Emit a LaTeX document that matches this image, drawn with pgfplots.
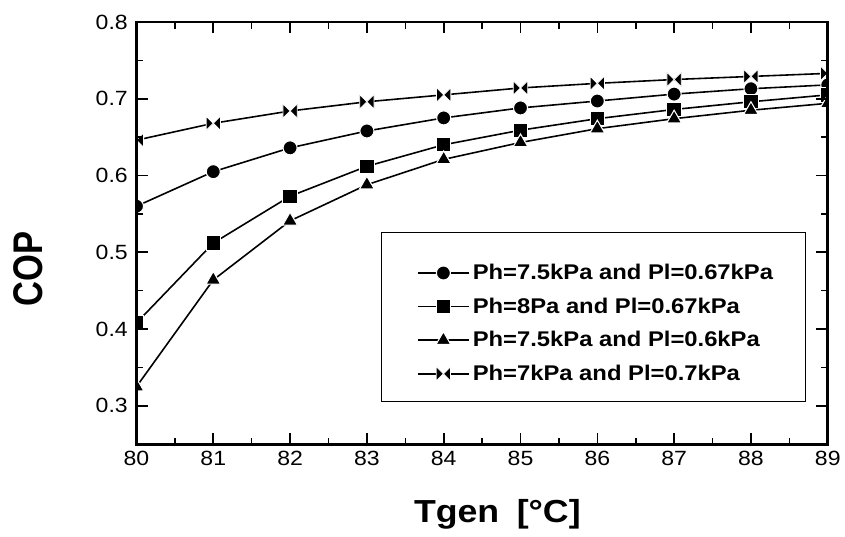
\documentclass[border=0pt]{standalone}
\usepackage{fontspec}
\setmainfont{Liberation Sans}[FakeStretch=1.12]
\newfontfamily\plainsans{Liberation Sans}
\usepackage{pgfplots}
\pgfplotsset{compat=1.18}
\usepackage{graphicx}

\pgfdeclareplotmark{bowtie}{%
 \pgfpathmoveto{\pgfqpoint{-\pgfplotmarksize}{\pgfplotmarksize}}%
 \pgfpathlineto{\pgfqpoint{\pgfplotmarksize}{-\pgfplotmarksize}}%
 \pgfpathlineto{\pgfqpoint{\pgfplotmarksize}{\pgfplotmarksize}}%
 \pgfpathlineto{\pgfqpoint{-\pgfplotmarksize}{-\pgfplotmarksize}}%
 \pgfpathclose
 \pgfusepathqfillstroke}

\begin{document}
\begin{tikzpicture}
\begin{axis}[
  width=520.5pt, height=318pt, scale only axis,
  at={(0,0)}, anchor=south west,
  xmin=80, xmax=89, ymin=0.25, ymax=0.8,
  xtick={80,81,82,83,84,85,86,87,88,89},
  ytick={0.3,0.4,0.5,0.6,0.7,0.8},
  minor x tick num=1, minor y tick num=1,
  tick align=inside, major tick length=8.5pt, minor tick length=5pt,
  every tick/.style={line width=1.2pt, black},
  axis line style={line width=2pt},
  yticklabel style={/pgf/number format/fixed, /pgf/number format/fixed zerofill, /pgf/number format/precision=1, xshift=-3pt},
  /pgf/number format/assume math mode=true,
  tick label style={font=\fontsize{15.5}{18}\selectfont},
  xticklabel style={yshift=-2pt},
  clip marker paths=true,
  axis on top,
  xlabel={\bfseries Tgen\hspace{0.55em}[°C]},
  xlabel style={at={(axis description cs:0.522,-0.186)}, anchor=base, font=\fontsize{24}{28}\selectfont},
  ylabel={\scalebox{1}[1.2]{\plainsans\bfseries COP}},
  ylabel style={at={(axis description cs:-0.157,0.415)}, anchor=center, rotate=0, font=\fontsize{26}{30}\selectfont},
  legend style={draw=none, fill=none, at={(axis description cs:0.405,0.433)}, anchor=north west,
    font=\bfseries\fontsize{16}{19}\selectfont, row sep=8.2pt, inner sep=0pt, cells={anchor=west}},
  legend image code/.code={\draw[mark repeat=2,mark phase=2] plot coordinates {(0pt,0pt)(19.5pt,0pt)(39pt,0pt)};},
]
\addplot[black, line width=1.2pt, mark=*, mark size=5.3pt, mark options={solid, fill=black, draw=white, line width=0.8pt}] coordinates {
 (80,0.560) (81,0.605) (82,0.636) (83,0.658) (84,0.675) (85,0.688) (86,0.697) (87,0.706) (88,0.713) (89,0.718)};
\addlegendentry{Ph=7.5kPa and Pl=0.67kPa}
\addplot[black, line width=1.2pt, mark=square*, mark size=5.4pt, mark options={solid, fill=black, draw=white, line width=0.8pt}] coordinates {
 (80,0.408) (81,0.512) (82,0.573) (83,0.612) (84,0.640) (85,0.659) (86,0.674) (87,0.686) (88,0.696) (89,0.705)};
\addlegendentry{Ph=8Pa and Pl=0.67kPa}
\addplot[black, line width=1.2pt, mark=triangle*, mark size=6.4pt, mark options={solid, fill=black, draw=white, line width=0.8pt}] coordinates {
 (80,0.325) (81,0.464) (82,0.541) (83,0.588) (84,0.621) (85,0.643) (86,0.661) (87,0.674) (88,0.685) (89,0.694)};
\addlegendentry{Ph=7.5kPa and Pl=0.6kPa}
\addplot[black, line width=1.2pt, mark=bowtie, mark size=5.4pt, mark options={solid, fill=black, draw=white, line width=0.6pt}] coordinates {
 (80,0.646) (81,0.668) (82,0.684) (83,0.696) (84,0.705) (85,0.714) (86,0.720) (87,0.725) (88,0.729) (89,0.733)};
\addlegendentry{Ph=7kPa and Pl=0.7kPa}
\draw[line width=0.7pt] (rel axis cs:0.355,0.101) rectangle (rel axis cs:0.968,0.502);
\end{axis}
\path (-102.75pt,-69.75pt) rectangle (531pt,334.5pt);
\end{tikzpicture}
\end{document}
